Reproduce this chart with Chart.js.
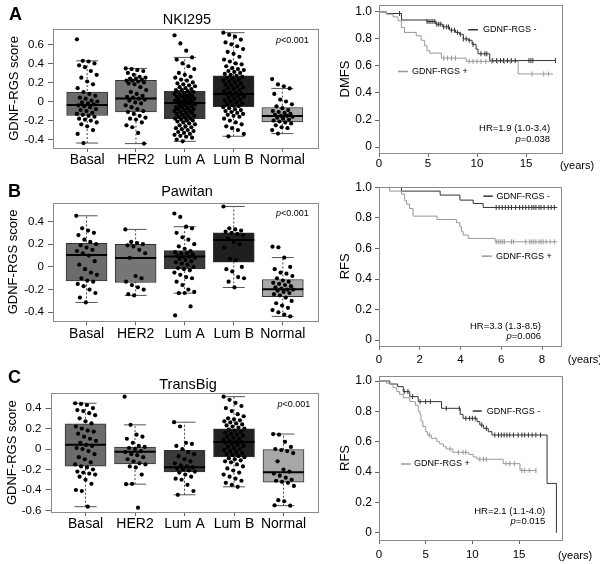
<!DOCTYPE html>
<html>
<head>
<meta charset="utf-8">
<script src="https://cdn.jsdelivr.net/npm/chart.js@4.4.1/dist/chart.umd.min.js"></script>
<style>
  body { margin: 0; background: #fff; }
  #fig { position: relative; width: 600px; height: 564px; font-family: "Liberation Sans", Arial, sans-serif; color: #000; }
  #fig canvas { position: absolute; }
  .lbl { position: absolute; line-height: 1; white-space: nowrap; }
  .panel { font-weight: bold; font-size: 18px; }
  .ttl { font-size: 14.5px; transform: translateX(-50%); }
</style>
</head>
<body>
<div id="fig">
  <canvas id="boxA" width="340" height="178" style="left:0;top:0"></canvas>
  <canvas id="kmA" width="268" height="178" style="left:332px;top:0"></canvas>
  <canvas id="boxB" width="340" height="185" style="left:0;top:180px"></canvas>
  <canvas id="kmB" width="268" height="185" style="left:332px;top:180px"></canvas>
  <canvas id="boxC" width="340" height="199" style="left:0;top:365px"></canvas>
  <canvas id="kmC" width="268" height="199" style="left:332px;top:365px"></canvas>
  <div class="lbl panel" style="left:9px;top:5px">A</div>
  <div class="lbl panel" style="left:8px;top:182px">B</div>
  <div class="lbl panel" style="left:8px;top:368px">C</div>
  <div class="lbl ttl" style="left:187px;top:12px">NKI295</div>
  <div class="lbl ttl" style="left:187px;top:184px">Pawitan</div>
  <div class="lbl ttl" style="left:188px;top:377px">TransBig</div>
</div>
<script>
// ---- data ----
const CATEGORIES = ['Basal', 'HER2', 'Lum A', 'Lum B', 'Normal'];

// NKI295 boxplot stats (whisker low, Q1, median, Q3, whisker high)
const NKI_LO  = [-0.436, -0.442, -0.418, -0.365, -0.337];
const NKI_Q1  = [-0.147, -0.109, -0.179, -0.053, -0.214];
const NKI_MED = [-0.036, 0.031, -0.015, 0.080, -0.151];
const NKI_Q3  = [0.098, 0.221, 0.108, 0.270, -0.063];
const NKI_HI  = [0.427, 0.347, 0.463, 0.722, 0.137];
const NKI_BASAL = [0.653, 0.427, 0.42, 0.40, 0.38, 0.36, 0.32, 0.28, 0.25, 0.21, 0.18, 0.14, 0.10, 0.08, 0.06, 0.04, 0.03, 0.01, 0.00, -0.01, -0.02, -0.03, -0.04, -0.05, -0.06, -0.08, -0.09, -0.10, -0.12, -0.13, -0.14, -0.15, -0.16, -0.18, -0.19, -0.20, -0.22, -0.24, -0.26, -0.30, -0.34, -0.436];
const NKI_HER2 = [0.347, 0.34, 0.33, 0.32, 0.30, 0.28, 0.26, 0.25, 0.24, 0.24, 0.23, 0.22, 0.22, 0.21, 0.20, 0.19, 0.18, 0.15, 0.12, 0.10, 0.08, 0.06, 0.05, 0.04, 0.03, 0.02, 0.01, -0.01, -0.02, -0.04, -0.06, -0.08, -0.10, -0.11, -0.13, -0.15, -0.17, -0.18, -0.19, -0.22, -0.25, -0.27, -0.33, -0.442];
const NKI_LUMA = [0.695, 0.61, 0.533, 0.463, 0.44, 0.40, 0.37, 0.34, 0.30, 0.28, 0.26, 0.25, 0.23, 0.22, 0.20, 0.19, 0.18, 0.17, 0.16, 0.15, 0.14, 0.13, 0.12, 0.12, 0.11, 0.10, 0.10, 0.09, 0.08, 0.08, 0.07, 0.06, 0.06, 0.05, 0.05, 0.04, 0.03, 0.03, 0.02, 0.02, 0.01, 0.00, 0.00, -0.01, -0.01, -0.02, -0.02, -0.03, -0.04, -0.04, -0.05, -0.06, -0.06, -0.07, -0.08, -0.08, -0.09, -0.10, -0.10, -0.11, -0.12, -0.12, -0.13, -0.14, -0.15, -0.15, -0.16, -0.17, -0.18, -0.18, -0.19, -0.20, -0.20, -0.21, -0.22, -0.23, -0.24, -0.25, -0.26, -0.27, -0.28, -0.29, -0.30, -0.31, -0.32, -0.33, -0.34, -0.35, -0.36, -0.37, -0.38, -0.40, -0.418];
const NKI_LUMB = [0.722, 0.70, 0.68, 0.65, 0.62, 0.60, 0.58, 0.55, 0.52, 0.50, 0.47, 0.44, 0.42, 0.40, 0.39, 0.37, 0.35, 0.34, 0.33, 0.32, 0.31, 0.30, 0.29, 0.28, 0.27, 0.26, 0.25, 0.24, 0.23, 0.22, 0.21, 0.20, 0.19, 0.18, 0.17, 0.16, 0.15, 0.14, 0.13, 0.12, 0.11, 0.10, 0.09, 0.08, 0.08, 0.07, 0.06, 0.05, 0.04, 0.03, 0.02, 0.01, 0.00, -0.01, -0.02, -0.03, -0.04, -0.05, -0.06, -0.07, -0.08, -0.09, -0.10, -0.11, -0.12, -0.13, -0.14, -0.15, -0.16, -0.18, -0.20, -0.22, -0.24, -0.26, -0.28, -0.30, -0.34, -0.365];
const NKI_NORMAL = [0.235, 0.179, 0.16, 0.137, 0.08, 0.02, 0.00, -0.03, -0.05, -0.07, -0.09, -0.10, -0.11, -0.12, -0.13, -0.14, -0.15, -0.15, -0.16, -0.17, -0.18, -0.19, -0.20, -0.21, -0.22, -0.23, -0.25, -0.27, -0.28, -0.30, -0.337];

// Pawitan boxplot
const PAW_LO  = [-0.313, -0.251, -0.231, -0.181, -0.436];
const PAW_Q1  = [-0.123, -0.137, -0.018, 0.041, -0.263];
const PAW_MED = [0.105, 0.079, 0.091, 0.237, -0.196];
const PAW_Q3  = [0.208, 0.199, 0.143, 0.301, -0.111];
const PAW_HI  = [0.45, 0.33, 0.354, 0.532, 0.082];
const PAW_BASAL = [0.45, 0.34, 0.32, 0.30, 0.28, 0.24, 0.22, 0.20, 0.19, 0.17, 0.15, 0.14, 0.12, 0.10, 0.05, 0.02, -0.02, -0.05, -0.07, -0.10, -0.12, -0.13, -0.15, -0.17, -0.20, -0.23, -0.27, -0.313];
const PAW_HER2 = [0.33, 0.22, 0.21, 0.20, 0.19, 0.18, 0.15, 0.12, 0.08, -0.08, -0.10, -0.13, -0.16, -0.18, -0.20, -0.24, -0.251];
const PAW_LUMA = [0.47, 0.44, 0.354, 0.34, 0.30, 0.26, 0.24, 0.20, 0.18, 0.16, 0.14, 0.13, 0.12, 0.12, 0.11, 0.10, 0.09, 0.09, 0.08, 0.07, 0.06, 0.05, 0.04, 0.03, 0.02, 0.00, -0.01, -0.02, -0.03, -0.05, -0.07, -0.09, -0.10, -0.13, -0.16, -0.20, -0.22, -0.231, -0.23, -0.348, -0.427];
const PAW_LUMB = [0.532, 0.34, 0.33, 0.32, 0.31, 0.30, 0.29, 0.28, 0.25, 0.22, 0.20, 0.17, 0.07, 0.06, 0.00, -0.02, -0.04, -0.09, -0.10, -0.13, -0.181];
const PAW_NORMAL = [0.178, 0.172, 0.082, 0.00, -0.02, -0.05, -0.06, -0.08, -0.10, -0.12, -0.13, -0.14, -0.15, -0.16, -0.17, -0.18, -0.19, -0.20, -0.20, -0.21, -0.22, -0.23, -0.24, -0.25, -0.27, -0.30, -0.32, -0.34, -0.36, -0.38, -0.40, -0.42, -0.436];

// TransBig boxplot
const TB_LO  = [-0.563, -0.343, -0.447, -0.369, -0.553];
const TB_Q1  = [-0.168, -0.146, -0.223, -0.078, -0.324];
const TB_MED = [0.042, -0.026, -0.178, 0.068, -0.227];
const TB_Q3  = [0.246, 0.019, -0.013, 0.197, 0.0];
const TB_HI  = [0.447, 0.236, 0.262, 0.511, 0.146];
const TB_BASAL = [0.447, 0.44, 0.43, 0.40, 0.38, 0.37, 0.35, 0.33, 0.30, 0.27, 0.25, 0.22, 0.20, 0.18, 0.17, 0.15, 0.12, 0.10, 0.08, 0.06, 0.04, 0.03, 0.01, 0.00, -0.02, -0.05, -0.08, -0.10, -0.13, -0.15, -0.17, -0.18, -0.20, -0.22, -0.23, -0.24, -0.25, -0.27, -0.30, -0.34, -0.40, -0.41, -0.563];
const TB_HER2 = [0.511, 0.236, 0.14, 0.12, 0.10, 0.06, 0.03, 0.02, 0.01, 0.00, -0.02, -0.03, -0.05, -0.06, -0.08, -0.10, -0.12, -0.14, -0.15, -0.17, -0.18, -0.25, -0.343, -0.34, -0.573];
const TB_LUMA = [0.262, 0.22, 0.06, 0.05, 0.03, 0.00, -0.03, -0.05, -0.07, -0.10, -0.12, -0.14, -0.16, -0.17, -0.18, -0.19, -0.20, -0.21, -0.22, -0.23, -0.25, -0.27, -0.29, -0.30, -0.35, -0.41, -0.447];
const TB_LUMB = [0.511, 0.48, 0.45, 0.42, 0.40, 0.37, 0.34, 0.32, 0.30, 0.29, 0.28, 0.27, 0.26, 0.25, 0.24, 0.23, 0.22, 0.21, 0.20, 0.19, 0.18, 0.17, 0.16, 0.15, 0.14, 0.13, 0.12, 0.11, 0.10, 0.09, 0.08, 0.07, 0.07, 0.06, 0.05, 0.04, 0.03, 0.02, 0.01, 0.00, -0.01, -0.02, -0.03, -0.04, -0.05, -0.06, -0.07, -0.08, -0.09, -0.10, -0.11, -0.12, -0.13, -0.15, -0.17, -0.19, -0.21, -0.23, -0.25, -0.27, -0.29, -0.31, -0.33, -0.35, -0.369];
const TB_NORMAL = [0.146, 0.14, 0.07, 0.02, 0.00, -0.01, -0.02, -0.04, -0.12, -0.20, -0.22, -0.24, -0.26, -0.28, -0.30, -0.31, -0.32, -0.33, -0.36, -0.50, -0.51, -0.553, -0.55];

// Kaplan-Meier curves: event times (years) and survival after each step
const NKI_NEG_T = [0, 0.75, 2.3, 4.9, 5.8, 6.5, 7.2, 7.8, 8.2, 8.6, 9.1, 9.5, 9.9, 10.1, 11.3, 18.0];
const NKI_NEG_S = [1.0, 0.988, 0.94, 0.929, 0.909, 0.889, 0.865, 0.848, 0.835, 0.80, 0.79, 0.76, 0.725, 0.69, 0.64, 0.64];
const NKI_NEG_CENS = [2.1, 4.9, 5.1, 5.3, 5.5, 5.7, 5.9, 6.1, 6.3, 6.6, 6.9, 7.1, 7.4, 7.7, 8.0, 8.3, 8.6, 8.9, 9.2, 9.6, 10.4, 10.8, 11.0, 11.6, 12.0, 12.4, 12.7, 13.1, 13.5, 13.9, 15.3, 15.5, 15.7, 18.0];
const NKI_POS_T = [0, 0.75, 1.43, 1.94, 2.28, 2.6, 3.8, 4.3, 4.66, 4.9, 5.17, 6.36, 8.9, 14.2, 17.75];
const NKI_POS_S = [1.0, 0.983, 0.963, 0.934, 0.885, 0.848, 0.823, 0.79, 0.749, 0.713, 0.695, 0.658, 0.634, 0.541, 0.541];
const NKI_POS_CENS = [6.6, 7.0, 7.4, 7.8, 9.2, 9.6, 10.0, 10.4, 10.9, 11.5, 12.1, 12.8, 13.4, 15.6, 16.8, 17.3];

const PAW_NEG_T = [0, 1.1, 3.0, 3.97, 4.62, 5.11, 8.75];
const PAW_NEG_S = [1.0, 0.976, 0.95, 0.917, 0.895, 0.869, 0.869];
const PAW_NEG_CENS = [5.75, 5.9, 6.05, 6.2, 6.35, 6.5, 6.7, 6.9, 7.05, 7.2, 7.35, 7.5, 7.6, 7.7, 7.85, 7.95, 8.1, 8.3, 8.45, 8.6];
const PAW_POS_T = [0, 0.52, 1.1, 1.26, 1.35, 1.5, 1.67, 2.85, 3.8, 3.97, 4.05, 4.13, 4.38, 5.7, 8.75];
const PAW_POS_S = [1.0, 0.976, 0.956, 0.913, 0.89, 0.862, 0.812, 0.79, 0.769, 0.742, 0.71, 0.688, 0.666, 0.644, 0.644];
const PAW_POS_CENS = [5.75, 5.85, 5.95, 6.05, 6.15, 6.5, 6.6, 7.2, 7.4, 7.5, 7.6, 7.7, 7.85, 7.95, 8.05, 8.2, 8.4, 8.6];

const TB_NEG_T = [0, 1.15, 2.0, 2.6, 3.3, 4.2, 6.7, 8.7, 9.0, 10.5, 10.8, 11.2, 11.7, 12.1, 18.0, 19.0];
const TB_NEG_S = [1.0, 0.98, 0.963, 0.93, 0.897, 0.864, 0.82, 0.78, 0.754, 0.732, 0.71, 0.688, 0.666, 0.644, 0.325, 0.0];
const TB_NEG_CENS = [2.7, 3.1, 3.6, 4.4, 5.0, 5.5, 7.2, 8.6, 9.3, 9.7, 10.0, 10.3, 11.0, 11.5, 12.4, 12.8, 13.1, 13.4, 13.7, 14.0, 14.4, 14.9, 15.3, 15.6, 16.0, 16.4, 16.8, 17.3];
const TB_POS_T = [0, 0.8, 1.5, 1.9, 2.2, 2.6, 3.3, 3.9, 4.2, 4.4, 4.5, 4.7, 5.0, 5.2, 5.6, 6.2, 6.5, 6.9, 7.2, 7.9, 9.6, 10.1, 10.5, 13.3, 15.1, 16.9];
const TB_POS_S = [1.0, 0.985, 0.956, 0.93, 0.912, 0.89, 0.864, 0.84, 0.80, 0.776, 0.736, 0.70, 0.666, 0.644, 0.622, 0.60, 0.585, 0.567, 0.552, 0.53, 0.516, 0.499, 0.484, 0.455, 0.41, 0.41];
const TB_POS_CENS = [5.4, 7.6, 8.5, 9.0, 9.3, 10.8, 11.2, 11.5, 13.6, 14.0, 14.5, 15.3, 15.6, 16.1, 16.8];

// tick values
const BOX_TICKS_NKI = [-0.4, -0.2, 0, 0.2, 0.4, 0.6];
const BOX_TICKS_PAW = [-0.4, -0.2, 0, 0.2, 0.4];
const BOX_TICKS_TB = [-0.6, -0.4, -0.2, 0, 0.2, 0.4];
const KM_Y_TICKS = [0, 0.2, 0.4, 0.6, 0.8, 1.0];
const KM_X_TICKS_NKI = [0, 5, 10, 15];
const KM_X_TICKS_PAW = [0, 2, 4, 6, 8];
const KM_X_TICKS_TB = [0, 5, 10, 15];

// ---- drawing ----
const FONT = '"Liberation Sans", Arial, sans-serif';
Chart.defaults.font.family = FONT;
Chart.defaults.color = '#000';
Chart.defaults.animation = false;
Chart.defaults.plugins.legend.display = false;
Chart.defaults.plugins.tooltip.enabled = false;

const BOX_FILLS = ['#6b6b6b', '#767676', '#3a3a3a', '#1f1f1f', '#a8a8a8'];
const fmt1 = v => (v === 0 ? '0' : v.toFixed(1));

// frame + free text/legend marks placed in data coordinates
const notesPlugin = {
  id: 'notes',
  afterDraw(chart, args, opts) {
    const { ctx, chartArea: a, scales: { x, y } } = chart;
    ctx.save();
    ctx.strokeStyle = '#8a8a8a';
    ctx.lineWidth = 1;
    ctx.strokeRect(Math.round(a.left) + 0.5, Math.round(a.top) + 0.5,
      Math.round(a.right) - Math.round(a.left), Math.round(a.bottom) - Math.round(a.top));
    (opts.items || []).forEach(it => {
      const py = y.getPixelForValue(it.y);
      if (it.kind === 'line') {
        ctx.beginPath();
        ctx.strokeStyle = it.color;
        ctx.lineWidth = it.width;
        ctx.moveTo(x.getPixelForValue(it.x1), py);
        ctx.lineTo(x.getPixelForValue(it.x2), py);
        ctx.stroke();
        return;
      }
      const parts = it.parts;
      const fontOf = p => (p.italic ? 'italic ' : '') + it.size + 'px ' + FONT;
      let total = 0;
      parts.forEach(p => { ctx.font = fontOf(p); total += ctx.measureText(p.t).width; });
      let px = x.getPixelForValue(it.x);
      if (it.align === 'right') px -= total;
      else if (it.align === 'center') px -= total / 2;
      ctx.fillStyle = it.color || '#000';
      ctx.textBaseline = 'middle';
      ctx.textAlign = 'left';
      parts.forEach(p => {
        ctx.font = fontOf(p);
        ctx.fillText(p.t, px, py);
        px += ctx.measureText(p.t).width;
      });
    });
    ctx.restore();
  }
};

function linAxis(o) {
  return {
    type: 'linear', min: o.min, max: o.max, offset: false,
    grid: { display: true, drawOnChartArea: false, drawTicks: true, tickLength: o.tickLength, color: '#666', offset: false },
    border: { display: false },
    ticks: { autoSkip: false, maxRotation: 0, padding: o.pad, color: '#000', font: { size: o.size }, callback: o.fmt },
    title: o.title || { display: false },
    afterBuildTicks: s => { s.ticks = o.ticks.map(v => ({ value: v })); },
    afterFit: s => {
      if (o.width !== undefined) s.width = o.width;
      if (o.height !== undefined) s.height = o.height;
      s.paddingTop = 0; s.paddingBottom = 0; s.paddingLeft = 0; s.paddingRight = 0;
    }
  };
}

const jit = j => ((((j * 37) % 29) / 28) - 0.5) * 0.42;

function boxChart(id, d, lay) {
  const idx = CATEGORIES.map((c, i) => i);
  const whiskers = [];
  const caps = [];
  idx.forEach(i => {
    whiskers.push({ x: i, y: d.lo[i] }, { x: i, y: d.hi[i] }, { x: i, y: null });
    caps.push({ x: i, y: d.lo[i] }, { x: i, y: d.hi[i] });
  });
  const pts = [];
  d.groups.forEach((g, i) => g.forEach((v, j) => pts.push({ x: i + jit(j), y: v })));

  new Chart(document.getElementById(id), {
    type: 'scatter',
    data: {
      datasets: [
        { type: 'line', data: whiskers, borderColor: '#444', borderWidth: 1, borderDash: [2, 2], pointRadius: 0, spanGaps: false, order: 4 },
        { type: 'bar', data: idx.map(i => ({ x: i, y: [d.q1[i], d.q3[i]] })), backgroundColor: BOX_FILLS, borderColor: '#333', borderWidth: 1, borderSkipped: false, barThickness: 41, order: 3 },
        { type: 'scatter', data: caps, pointStyle: 'line', pointRadius: 11, pointBorderWidth: 1, pointBorderColor: '#555', order: 2 },
        { type: 'scatter', data: idx.map(i => ({ x: i, y: d.med[i] })), pointStyle: 'line', pointRadius: 20.5, pointBorderWidth: 2, pointBorderColor: '#000', order: 1 },
        { type: 'scatter', data: pts, pointRadius: 2.1, pointBackgroundColor: '#000', pointBorderWidth: 0, order: 0 }
      ]
    },
    options: {
      responsive: false,
      devicePixelRatio: 1,
      layout: { padding: { left: 0, top: lay.top, right: lay.right, bottom: 0 } },
      scales: {
        x: linAxis({ min: lay.xMin, max: lay.xMax, ticks: idx, tickLength: 4, pad: 0, size: 14,
          fmt: v => CATEGORIES[v], height: lay.xHeight }),
        y: linAxis({ min: lay.yMin, max: lay.yMax, ticks: d.yTicks, tickLength: 5, pad: 4, size: 11.5,
          fmt: fmt1, width: lay.yWidth,
          title: { display: true, text: 'GDNF-RGS score', font: { size: 13 }, color: '#000', padding: { top: lay.titlePad, bottom: 0 } } })
      },
      plugins: {
        notes: { items: [
          { kind: 'text', x: lay.pX, y: lay.pY, align: 'right', size: 9, parts: [{ t: 'p', italic: true }, { t: '<0.001' }] }
        ] }
      }
    },
    plugins: [notesPlugin]
  });
}

function survAt(T, S, t) {
  let s = S[0];
  for (let i = 0; i < T.length; i++) if (T[i] <= t) s = S[i];
  return s;
}

function kmChart(id, d, lay) {
  const DARK = '#333', LIGHT = '#999';
  const curve = (T, S, col) => ({ type: 'line', data: T.map((t, i) => ({ x: t, y: S[i] })), stepped: true, borderColor: col, borderWidth: 1, pointRadius: 0, order: 2 });
  const marks = (T, S, C, col) => ({ type: 'scatter', data: C.map(c => ({ x: c, y: survAt(T, S, c) })), pointStyle: 'line', pointRotation: 90, pointRadius: 2.5, pointBorderWidth: 1, pointBorderColor: col, order: 1 });
  new Chart(document.getElementById(id), {
    type: 'scatter',
    data: {
      datasets: [
        curve(d.posT, d.posS, LIGHT),
        marks(d.posT, d.posS, d.posC, LIGHT),
        curve(d.negT, d.negS, DARK),
        marks(d.negT, d.negS, d.negC, DARK)
      ]
    },
    options: {
      responsive: false,
      devicePixelRatio: 1,
      layout: { padding: { left: 0, top: lay.top, right: lay.right, bottom: 0 } },
      scales: {
        x: linAxis({ min: 0, max: lay.xMax, ticks: d.xTicks, tickLength: 4, pad: lay.xPad, size: 11.5,
          fmt: v => String(v), height: lay.xHeight }),
        y: linAxis({ min: lay.yMin, max: lay.yMax, ticks: KM_Y_TICKS, tickLength: 4, pad: 3, size: 12,
          fmt: fmt1, width: 47,
          title: { display: true, text: d.yTitle, font: { size: 13 }, color: '#000', padding: { top: 6, bottom: 0 } } })
      },
      plugins: {
        notes: { items: [
          { kind: 'line', x1: lay.negLine[0], x2: lay.negLine[1], y: lay.negY, color: DARK, width: 1.5 },
          { kind: 'text', x: lay.negText, y: lay.negY, align: 'left', size: 9, parts: [{ t: 'GDNF-RGS -' }] },
          { kind: 'line', x1: lay.posLine[0], x2: lay.posLine[1], y: lay.posY, color: LIGHT, width: 1.5 },
          { kind: 'text', x: lay.posText, y: lay.posY, align: 'left', size: 9, parts: [{ t: 'GDNF-RGS +' }] },
          { kind: 'text', x: lay.hrX, y: lay.hrY, align: 'right', size: 9.5, parts: [{ t: d.hr }] },
          { kind: 'text', x: lay.hrX, y: lay.pY, align: 'right', size: 9.5, parts: [{ t: 'p', italic: true }, { t: d.p }] },
          { kind: 'text', x: lay.yrX, y: lay.yrY, align: 'center', size: 11, parts: [{ t: '(years)' }] }
        ] }
      }
    },
    plugins: [notesPlugin]
  });
}

boxChart('boxA',
  { lo: NKI_LO, q1: NKI_Q1, med: NKI_MED, q3: NKI_Q3, hi: NKI_HI, yTicks: BOX_TICKS_NKI,
    groups: [NKI_BASAL, NKI_HER2, NKI_LUMA, NKI_LUMB, NKI_NORMAL] },
  { top: 29, right: 9, xHeight: 30, yWidth: 53, titlePad: 7, xMin: -0.70, xMax: 4.72, yMin: -0.488, yMax: 0.761, pX: 4.54, pY: 0.645 });

boxChart('boxB',
  { lo: PAW_LO, q1: PAW_Q1, med: PAW_MED, q3: PAW_Q3, hi: PAW_HI, yTicks: BOX_TICKS_PAW,
    groups: [PAW_BASAL, PAW_HER2, PAW_LUMA, PAW_LUMB, PAW_NORMAL] },
  { top: 22, right: 11, xHeight: 43.7, yWidth: 53, titlePad: 6, xMin: -0.684, xMax: 4.707, yMin: -0.479, yMax: 0.567, pX: 4.53, pY: 0.471 });

boxChart('boxC',
  { lo: TB_LO, q1: TB_Q1, med: TB_MED, q3: TB_Q3, hi: TB_HI, yTicks: BOX_TICKS_TB,
    groups: [TB_BASAL, TB_HER2, TB_LUMA, TB_LUMB, TB_NORMAL] },
  { top: 28.3, right: 13, xHeight: 52, yWidth: 50.5, titlePad: 5, xMin: -0.708, xMax: 4.687, yMin: -0.615, yMax: 0.544, pX: 4.54, pY: 0.43 });

kmChart('kmA',
  { negT: NKI_NEG_T, negS: NKI_NEG_S, negC: NKI_NEG_CENS, posT: NKI_POS_T, posS: NKI_POS_S, posC: NKI_POS_CENS,
    xTicks: KM_X_TICKS_NKI, yTitle: 'DMFS', hr: 'HR=1.9 (1.0-3.4)', p: '=0.038' },
  { top: 4, right: 38, xHeight: 25, xPad: 0, xMax: 18.67, yMin: -0.044, yMax: 1.051,
    negLine: [9.1, 10.1], negText: 10.6, negY: 0.868, posLine: [1.94, 2.96], posText: 3.37, posY: 0.559,
    hrX: 17.45, hrY: 0.14, pY: 0.059, yrX: 20.2, yrY: -0.14 });

kmChart('kmB',
  { negT: PAW_NEG_T, negS: PAW_NEG_S, negC: PAW_NEG_CENS, posT: PAW_POS_T, posS: PAW_POS_S, posC: PAW_POS_CENS,
    xTicks: KM_X_TICKS_PAW, yTitle: 'RFS', hr: 'HR=3.3 (1.3-8.5)', p: '=0.006' },
  { top: 7, right: 39, xHeight: 19.3, xPad: 3, xMax: 8.93, yMin: -0.037, yMax: 1.003,
    negLine: [5.12, 5.58], negText: 5.77, negY: 0.943, posLine: [5.04, 5.53], posText: 5.74, posY: 0.55,
    hrX: 7.95, hrY: 0.092, pY: 0.026, yrX: 10.1, yrY: -0.131 });

kmChart('kmC',
  { negT: TB_NEG_T, negS: TB_NEG_S, negC: TB_NEG_CENS, posT: TB_POS_T, posS: TB_POS_S, posC: TB_POS_CENS,
    xTicks: KM_X_TICKS_TB, yTitle: 'RFS', hr: 'HR=2.1 (1.1-4.0)', p: '=0.015' },
  { top: 11, right: 38, xHeight: 24, xPad: 4, xMax: 19.6, yMin: -0.048, yMax: 1.033,
    negLine: [10.04, 11.0], negText: 11.54, negY: 0.802, posLine: [2.36, 3.4], posText: 3.75, posY: 0.453,
    hrX: 17.8, hrY: 0.143, pY: 0.077, yrX: 21.0, yrY: -0.154 });
</script>
</body>
</html>
